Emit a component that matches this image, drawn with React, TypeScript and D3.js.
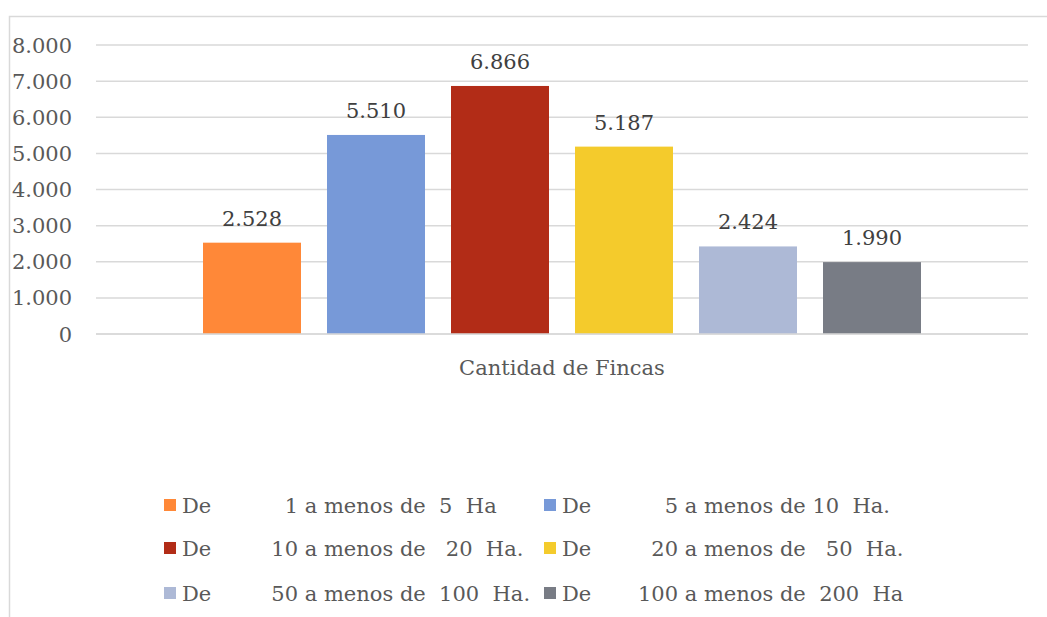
import * as d3 from "d3";
import React from "react";

// data
const categories = ["Cantidad de Fincas"];
const seriesLabels = [
  "De           1 a menos de  5  Ha",
  "De           5 a menos de 10  Ha.",
  "De         10 a menos de   20  Ha.",
  "De         20 a menos de   50  Ha.",
  "De         50 a menos de  100  Ha.",
  "De       100 a menos de  200  Ha",
];
const seriesValues = [2528, 5510, 6866, 5187, 2424, 1990];
const seriesColors = ["#FF8838", "#7799D8", "#B22C17", "#F4CB2C", "#ADB9D6", "#787C85"];
const yTicks = [0, 1000, 2000, 3000, 4000, 5000, 6000, 7000, 8000];

const W = 1047;
const H = 617;
const FONT = "'DejaVu Serif', serif";
const FS = 21;

const fmt = (v: number) => d3.format(",")(v).replace(/,/g, ".");

const App: React.FC = () => {
  const y = d3.scaleLinear().domain([0, 8000]).range([334, 45]);
  const x0 = d3.scaleBand().domain(categories).range([96, 1028]);
  const x1 = d3
    .scaleBand<number>()
    .domain(d3.range(seriesValues.length))
    .range([190, 934])
    .paddingInner(26 / 124)
    .paddingOuter(13 / 124);

  const legendX = [164, 544];
  const legendY = [505, 548, 593];

  return (
    <svg
      width={W}
      height={H}
      style={{ position: "absolute", left: 0, top: 0, display: "block", background: "#fff" }}
      fontFamily={FONT}
    >
      <rect x={9.5} y={16.5} width={1100} height={700} fill="#fff" stroke="#d9d9d9" strokeWidth={1.5} />

      {yTicks.map((t) => (
        <g key={t}>
          <line x1={96} x2={1028} y1={y(t)} y2={y(t)} stroke="#d9d9d9" strokeWidth={1.5} />
          <text x={72} y={y(t)} dy="0.36em" textAnchor="end" fontSize={FS} fill="#595959">
            {fmt(t)}
          </text>
        </g>
      ))}

      {seriesValues.map((v, i) => {
        const bx = x1(i)!;
        const bw = x1.bandwidth();
        return (
          <g key={i}>
            <rect x={bx} y={y(v)} width={bw} height={y(0) - y(v)} fill={seriesColors[i]} />
            <text x={bx + bw / 2} y={y(v) - 17} textAnchor="middle" fontSize={FS} fill="#404040">
              {fmt(v)}
            </text>
          </g>
        );
      })}
      {/* redraw baseline over bars */}
      <line x1={96} x2={1028} y1={y(0)} y2={y(0)} stroke="#d9d9d9" strokeWidth={1.5} />

      {categories.map((c) => (
        <text
          key={c}
          x={x0(c)! + x0.bandwidth() / 2}
          y={375}
          textAnchor="middle"
          fontSize={FS}
          fill="#595959"
        >
          {c}
        </text>
      ))}

      {seriesLabels.map((lab, i) => {
        const col = i % 2;
        const row = Math.floor(i / 2);
        const lx = legendX[col];
        const ly = legendY[row];
        return (
          <g key={lab}>
            <rect x={lx} y={ly - 6} width={12} height={12} fill={seriesColors[i]} />
            <text
              x={lx + 18}
              y={ly}
              dy="0.36em"
              fontSize={FS}
              fill="#595959"
              style={{ whiteSpace: "pre" }}
              xmlSpace="preserve"
            >
              {lab}
            </text>
          </g>
        );
      })}
    </svg>
  );
};

export default App;
